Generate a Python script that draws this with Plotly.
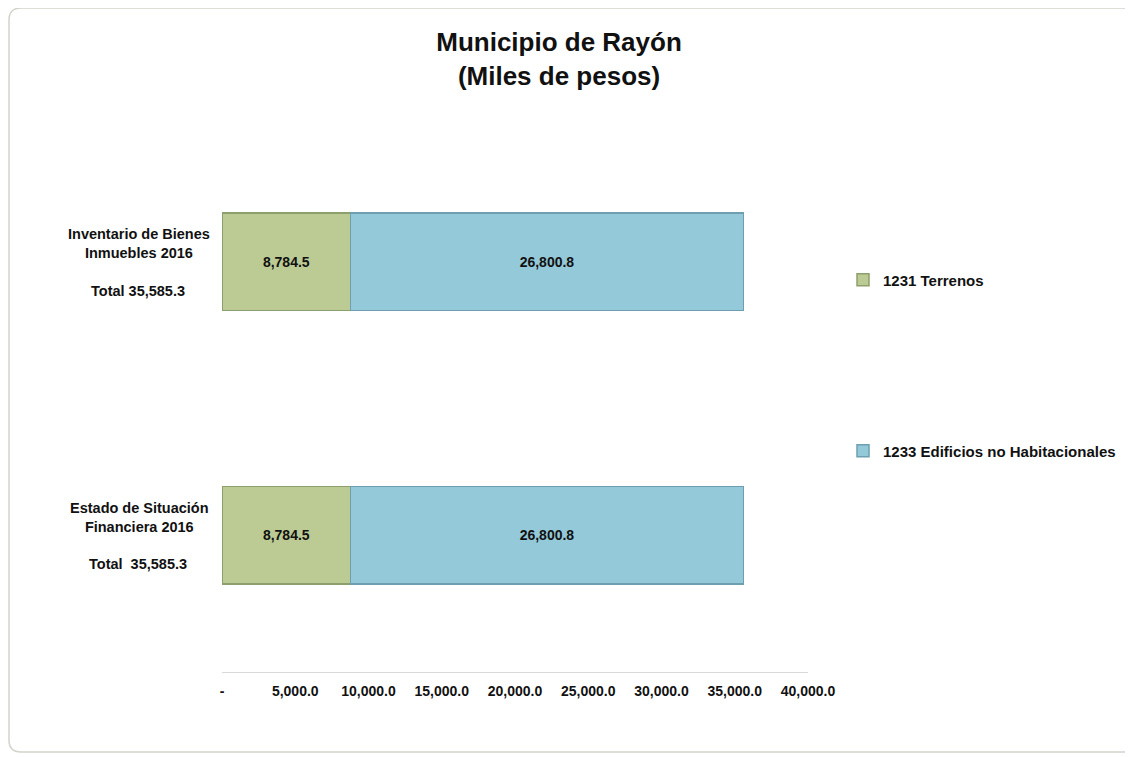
import plotly.graph_objects as go

categories = ["Inventario de Bienes Inmuebles 2016", "Estado de Situación Financiera 2016"]
cat_names = ["Inventario de Bienes<br>Inmuebles 2016", "Estado de Situación<br>Financiera 2016"]
cat_totals = ["Total 35,585.3", "Total  35,585.3"]
terrenos = [8784.5, 8784.5]
edificios = [26800.8, 26800.8]
series_names = ["1231 Terrenos", "1233 Edificios no Habitacionales"]
tick_vals = [0, 5000, 10000, 15000, 20000, 25000, 30000, 35000, 40000]
tick_text = ["-", "5,000.0", "10,000.0", "15,000.0", "20,000.0", "25,000.0", "30,000.0", "35,000.0", "40,000.0"]

FONT = "Liberation Sans, Arial, sans-serif"

fig = go.Figure()
fig.add_trace(go.Bar(
    y=categories, x=terrenos, orientation="h", name=series_names[0],
    marker=dict(color="#BCCB94", line=dict(color="#8E9F6E", width=1.5)),
    text=[f"{v:,.1f}" for v in terrenos], textposition="inside",
    insidetextanchor="middle", textangle=0,
    textfont=dict(family=FONT, size=14, color="#111111", weight="bold"),
    legend="legend",
))
fig.add_trace(go.Bar(
    y=categories, x=edificios, orientation="h", name=series_names[1],
    marker=dict(color="#93C9D9", line=dict(color="#6E9FB0", width=1.5)),
    text=[f"{v:,.1f}" for v in edificios], textposition="inside",
    insidetextanchor="middle", textangle=0,
    textfont=dict(family=FONT, size=14, color="#111111", weight="bold"),
    legend="legend2",
))

annotations = []
for c, n, t in zip(categories, cat_names, cat_totals):
    annotations.append(dict(x=-0.1416, xref="paper", y=c, yref="y", text=n, showarrow=False,
                            xanchor="center", yanchor="middle", align="center", yshift=18,
                            font=dict(family=FONT, size=14.5, color="#111111", weight="bold")))
    annotations.append(dict(x=-0.144, xref="paper", y=c, yref="y", text=t, showarrow=False,
                            xanchor="center", yanchor="middle", align="center", yshift=-29,
                            font=dict(family=FONT, size=14.5, color="#111111", weight="bold")))

# page-pixel -> paper coordinates (plot area spans x 222..808, y 125..672 on the page)
def px_x(p):
    return (p - 222) / 586.0
def px_y(p):
    return (672 - p) / 547.0

x0, x1 = px_x(9), px_x(1145)
yt, yb = px_y(8), px_y(752)
rx, ry = 12 / 586.0, 12 / 547.0
path = (f"M {x0+rx},{yt} L {x1},{yt} L {x1},{yb} L {x0+rx},{yb} "
        f"Q {x0},{yb} {x0},{yb+ry} L {x0},{yt-ry} Q {x0},{yt} {x0+rx},{yt}")

fig.update_layout(
    barmode="stack",
    bargap=0.645,
    width=1125, height=749,
    margin=dict(l=214, r=325, t=117, b=85, autoexpand=False),
    paper_bgcolor="white", plot_bgcolor="white",
    title=dict(text="Municipio de Rayón<br>(Miles de pesos)", x=0.4898, xanchor="center",
               y=0.9426, yanchor="middle",
               font=dict(family=FONT, size=26, color="#111111", weight="bold")),
    xaxis=dict(range=[0, 40000], tickvals=tick_vals, ticktext=tick_text, showgrid=False,
               zeroline=False, showline=True, linecolor="#D9D9D9", linewidth=1, ticks="",
               ticklabelstandoff=6,
               tickfont=dict(family=FONT, size=14, color="#111111", weight="bold"),
               fixedrange=True),
    yaxis=dict(categoryorder="array", categoryarray=categories[::-1], showticklabels=False,
               showgrid=False, zeroline=False, showline=False, ticks="", range=[-0.5, 1.5]),
    legend=dict(x=px_x(843), y=px_y(280), xanchor="left", yanchor="middle",
                font=dict(family=FONT, size=15, color="#111111", weight="bold"),
                bgcolor="rgba(0,0,0,0)"),
    legend2=dict(x=px_x(843), y=px_y(451), xanchor="left", yanchor="middle",
                 font=dict(family=FONT, size=15, color="#111111", weight="bold"),
                 bgcolor="rgba(0,0,0,0)"),
    annotations=annotations,
    shapes=[dict(type="path", path=path, xref="paper", yref="paper",
                 line=dict(color="#D3D3CB", width=1.5), fillcolor="rgba(0,0,0,0)", layer="below")],
    showlegend=True,
)

fig.write_html("out.html")
